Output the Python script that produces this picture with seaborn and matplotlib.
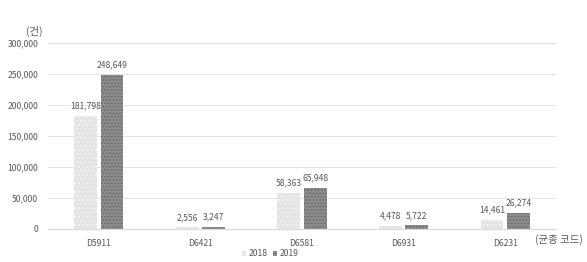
import pandas as pd
import matplotlib
matplotlib.use("Agg")
import matplotlib.pyplot as plt
import seaborn as sns
from matplotlib.patches import Patch

codes = ["D5911", "D6421", "D6581", "D6931", "D6231"]
years = ["2018", "2019"]
counts_2018 = [181798, 2556, 58363, 4478, 14461]
counts_2019 = [248649, 3247, 65948, 5722, 26274]

df = pd.DataFrame({
    "code": codes * 2,
    "year": [years[0]] * len(codes) + [years[1]] * len(codes),
    "count": counts_2018 + counts_2019,
})

sns.set_style("white")
plt.rcParams["font.family"] = ["Noto Sans CJK KR", "DejaVu Sans"]
plt.rcParams["hatch.linewidth"] = 0.7

text_col = "#595959"
fig = plt.figure(figsize=(5.87, 2.62), dpi=100)
ax = fig.add_axes([0.082, 0.126, 0.865, 0.71])

palette = {"2018": "#e4e4e4", "2019": "#8c8c8c"}
sns.barplot(data=df, x="code", y="count", hue="year", palette=palette,
            width=0.52, gap=0.14, ax=ax, legend=False, saturation=1)

hatches = {"2018": "....", "2019": "....."}
hatch_cols = {"2018": "#f7f7f7", "2019": "#666666"}
for cont, yr in zip(ax.containers, years):
    for bar in cont:
        bar.set_hatch(hatches[yr])
        bar.set_edgecolor(hatch_cols[yr])
        bar.set_linewidth(0)
    ax.bar_label(cont, labels=[f"{v:,.0f}" for v in cont.datavalues],
                 padding=4, fontsize=6.2, color=text_col)

ax.set_ylim(0, 300000)
ax.set_yticks(range(0, 300001, 50000))
ax.set_yticklabels([f"{v:,}" for v in range(0, 300001, 50000)])
ax.set_xlim(-0.5, len(codes) - 0.5)
ax.yaxis.grid(True, color="#e3e3e3", linewidth=0.7)
ax.set_axisbelow(True)
for s in ["top", "right", "left"]:
    ax.spines[s].set_visible(False)
ax.spines["bottom"].set_color("#d9d9d9")
ax.spines["bottom"].set_linewidth(0.8)
ax.tick_params(axis="both", length=0, labelsize=6.2, colors=text_col, pad=7)
ax.set_xlabel("")
ax.set_ylabel("")

fig.text(0.045, 0.865, "(건)", fontsize=7.5, color=text_col)
fig.text(0.912, 0.072, "(균종 코드)", fontsize=7.5, color=text_col)

handles = [Patch(facecolor=palette[y], edgecolor=hatch_cols[y], hatch=hatches[y],
                 linewidth=0, label=y) for y in years]
fig.legend(handles=handles, loc="lower center", bbox_to_anchor=(0.46, -0.015),
           ncol=2, frameon=False, fontsize=6.2, handlelength=0.55, handleheight=0.55,
           handletextpad=0.25, columnspacing=0.6, labelcolor=text_col)

fig.savefig("out.png", dpi=100)
